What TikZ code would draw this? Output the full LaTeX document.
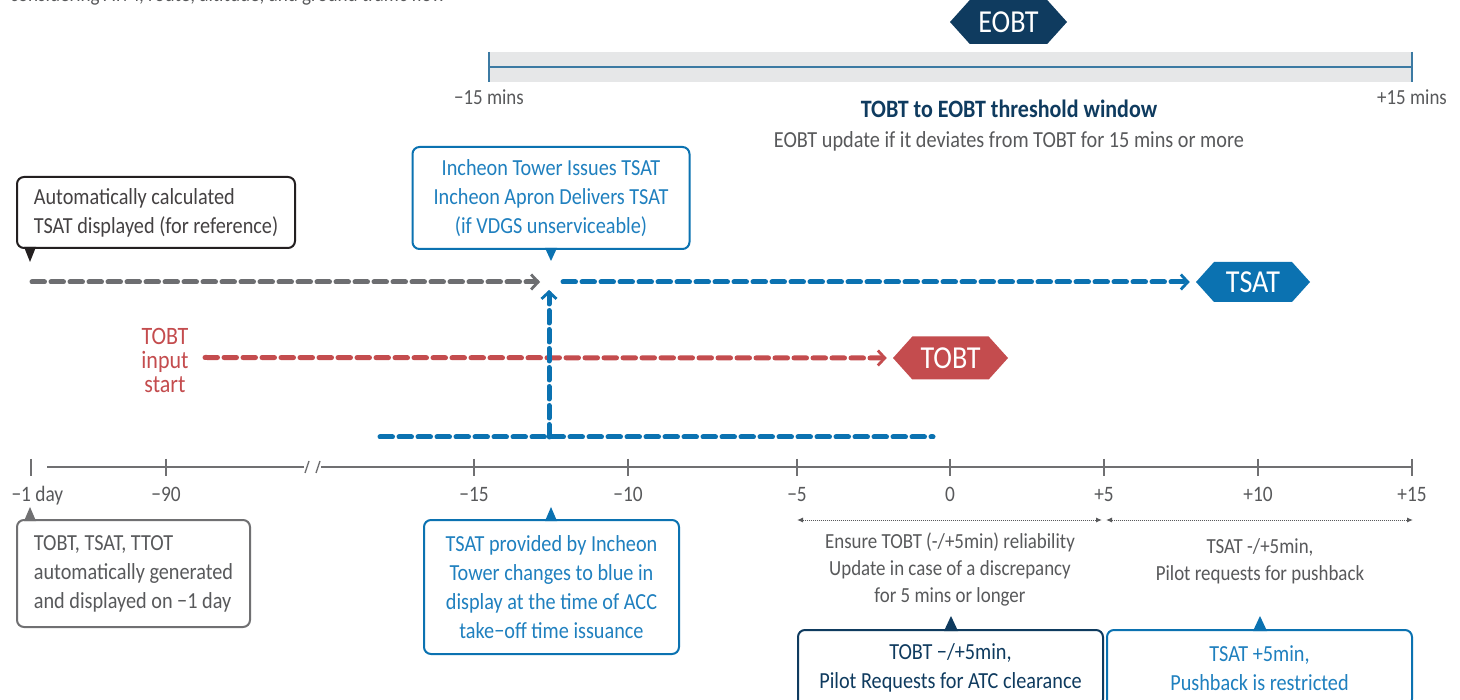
\documentclass[tikz,border=0pt]{standalone}
\usepackage{fontspec}
\setmainfont{Carlito}[FakeStretch=0.88]
\usetikzlibrary{arrows.meta,shapes.symbols}
\definecolor{cblue}{HTML}{0B72B1}
\definecolor{tblue}{HTML}{1F80BF}
\definecolor{navy}{HTML}{0F3B5F}
\definecolor{cred}{HTML}{C44C4E}
\definecolor{dgrey}{HTML}{6D6E71}
\definecolor{tgrey}{HTML}{58595B}
\definecolor{bandg}{HTML}{E6E7E8}
\definecolor{bandl}{HTML}{3C7AA3}
\definecolor{boxk}{HTML}{231F20}
\definecolor{axisg}{HTML}{707072}
\newcommand\fsz[2]{\fontsize{#1}{#2}\selectfont}
\begin{document}
\begin{tikzpicture}[x=1pt,y=-1pt,
  box/.style={draw, rounded corners=7pt, line width=2pt, inner sep=0pt},
  body/.style={font=\fsz{23}{29}},
  hexa/.style={signal, signal to=west and east, signal pointer angle=96, inner sep=0pt, text=white, font=\fsz{32}{34}},
  dashln/.style={line width=5pt, line cap=round, dash pattern=on 12.5pt off 6.5pt},
  chev/.style={-{Straight Barb[length=7pt,width=15pt,line width=2.8pt]}},
  axis/.style={line width=2pt, draw=axisg},
  ticklab/.style={text=tgrey, font=\fsz{22}{24}, anchor=base},
  smalltxt/.style={text=tgrey, font=\fsz{21.5}{27}, align=center},
  dotarr/.style={draw=tgrey, line width=1pt, densely dotted, {Latex[length=6pt,width=5pt]}-{Latex[length=6pt,width=5pt]}}
]
\clip (0,0) rectangle (1460,700);
\fill[white] (0,0) rectangle (1460,700);

% top cut-off text
\node[anchor=base west, inner sep=0pt, text=tgrey, font=\fsz{21.7}{24}] (topt) at (10,2) {considering ATM, route, altitude, and ground traffic flow};

% EOBT window
\fill[bandg] (489,52) rectangle (1412,82);
\draw[bandl, line width=1.5pt] (489,67) -- (1412,67);
\draw[bandl, line width=1.5pt] (489,52) -- (489,82);
\draw[bandl, line width=1.5pt] (1412,52) -- (1412,82);
\node[hexa, fill=navy, minimum width=117pt, minimum height=44pt] (eobt) at (1008.5,22) {EOBT};
\node[text=tgrey, font=\fsz{21.5}{24}, anchor=base] (wm) at (489,105) {−15 mins};
\node[text=tgrey, font=\fsz{21.5}{24}, anchor=base] (wp) at (1412,105) {+15 mins};
\node[text=navy, font=\bfseries\fsz{25}{28}, anchor=base] (head) at (1009,118) {TOBT to EOBT threshold window};
\node[text=tgrey, font=\fsz{23}{26}, anchor=base] (sub) at (1009,148) {EOBT update if it deviates from TOBT for 15 mins or more};

% callout boxes
\node[box, draw=boxk, text=boxk!85, minimum width=278pt, minimum height=71pt, align=left, body] (b1) at (156,212.5) {Automatically calculated\\TSAT displayed (for reference)};
\fill[boxk] (24,247) -- (36,247) -- (30,262) -- cycle;

\node[box, draw=cblue, text=tblue, minimum width=277pt, minimum height=102pt, align=center, body] (b2) at (551,198) {Incheon Tower Issues TSAT\\Incheon Apron Delivers TSAT\\(if VDGS unserviceable)};
\fill[cblue] (545,248) -- (557,248) -- (551,261) -- cycle;

% hexagons
\node[hexa, fill=cblue, minimum width=114pt, minimum height=40pt] (tsat) at (1253,282) {TSAT};
\node[hexa, fill=cred, minimum width=115pt, minimum height=43pt] (tobt) at (950.5,358) {TOBT};
\node[text=cred, font=\fsz{25}{24}, align=center] (tin) at (165,360) {TOBT\\input\\start};

% dashed flows
\coordinate (gs) at (32,282);
\coordinate (junc) at (549,282);
\coordinate (bt) at (563,282);
\coordinate (bs) at (549,437);
\coordinate (bl0) at (380,437);
\coordinate (bl1) at (933,437);
\coordinate (rs) at (205,357.5);
\draw[dashln, draw=dgrey, chev] (gs) -- ([xshift=-9pt]junc);
\draw[dashln, draw=cblue, chev] (bt) -- ([xshift=-6pt]tsat.west);
\draw[dashln, draw=cred, chev] (rs) -- ([xshift=-6pt]tobt.west);
\draw[dashln, draw=cblue] (bl0) -- (bl1);
\draw[dashln, draw=cblue, chev] (bs) -- ([yshift=-8pt]junc);

% timeline
\draw[axis] (31,459) -- (31,476);
\draw[axis] (47,467) -- (304,467);
\draw[axis] (321,467) -- (1412,467);
\draw[axis, line width=1.4pt] (305,473) -- (309,461);
\draw[axis, line width=1.4pt] (316,473) -- (320,461);
\foreach \x in {166,474,628,797,950,1104,1258,1412} \draw[axis] (\x,459) -- (\x,476);
\node[ticklab, anchor=base west] (l0) at (8,501) {−1 day};
\node[ticklab] (l1) at (166,501) {−90};
\node[ticklab] (l2) at (474,501) {−15};
\node[ticklab] (l3) at (628,501) {−10};
\node[ticklab] (l4) at (797,501) {−5};
\node[ticklab] (l5) at (950,501) {0};
\node[ticklab] (l6) at (1104,501) {+5};
\node[ticklab] (l7) at (1258,501) {+10};
\node[ticklab] (l8) at (1412,501) {+15};

% ranges
\coordinate (r0) at (797,520);
\coordinate (r1) at (1102,520);
\coordinate (r2) at (1106,520);
\coordinate (r3) at (1413,520);
\draw[dotarr] (r0) -- (r1);
\draw[dotarr] (r2) -- (r3);
\node[smalltxt] (ens) at (950,569.5) {Ensure TOBT (-/+5min) reliability\\Update in case of a discrepancy\\for 5 mins or longer};
\node[smalltxt] (tsr) at (1260,561.5) {TSAT -/+5min,\\Pilot requests for pushback};

% lower callouts
\node[box, draw=axisg, text=tgrey, minimum width=233pt, minimum height=107pt, align=left, body] (b3) at (133.5,573.5) {TOBT, TSAT, TTOT\\automatically generated\\and displayed on −1 day};
\fill[axisg] (24,521) -- (36,521) -- (30,507) -- cycle;

\node[box, draw=cblue, text=tblue, minimum width=255pt, minimum height=134pt, align=center, body] (b4) at (551.5,587) {TSAT provided by Incheon\\Tower changes to blue in\\display at the time of ACC\\take−off time issuance};
\fill[cblue] (545,521) -- (557,521) -- (551,507) -- cycle;

\node[box, draw=navy, text=navy, minimum width=305pt, minimum height=76pt, align=center, body] (b5) at (950.5,668) {TOBT −/+5min,\\Pilot Requests for ATC clearance};
\fill[navy] (944,631) -- (958,631) -- (951,616) -- cycle;

\node[box, draw=cblue, text=tblue, minimum width=305pt, minimum height=76pt, align=center, body] (b6) at (1259.5,668) {TSAT +5min,\\Pushback is restricted};
\fill[cblue] (1253,631) -- (1267,631) -- (1260,616) -- cycle;
\end{tikzpicture}
\end{document}
